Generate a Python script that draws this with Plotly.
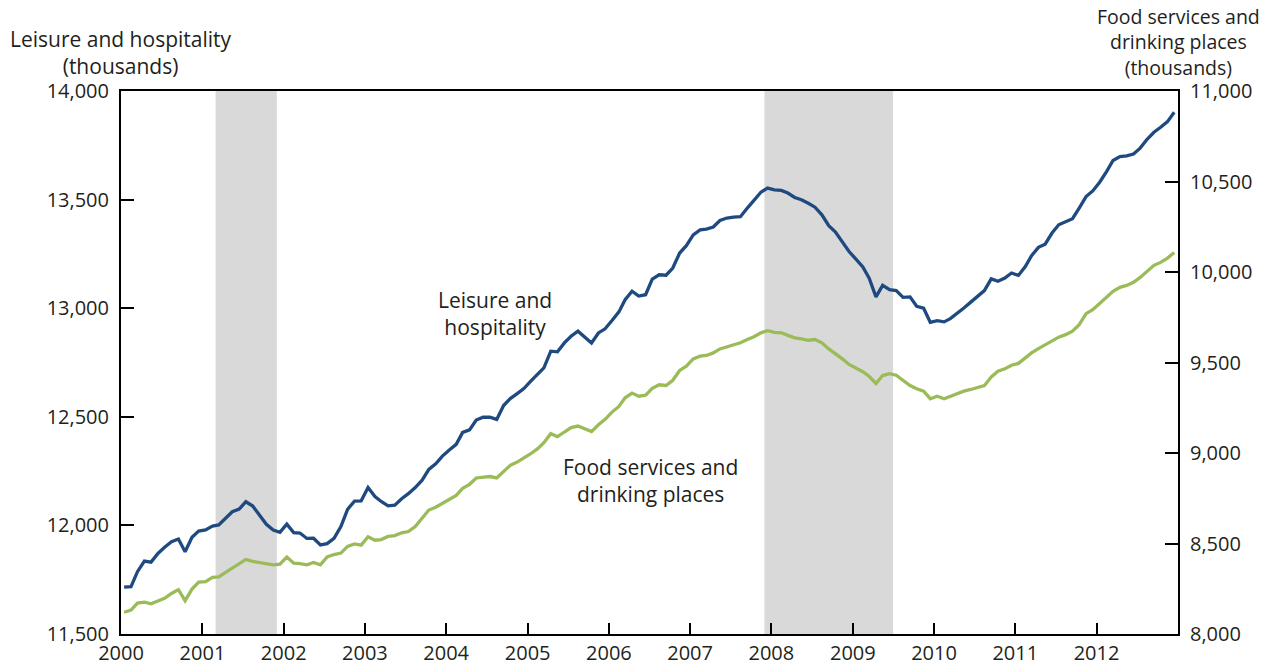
import pandas as pd
import plotly.graph_objects as go

# ---------------- data ----------------
start_month = "2000-01"
n_months = 156

leisure_hospitality = [
    11716, 11718, 11787, 11836, 11831, 11871, 11899, 11925, 11937, 11879, 11945, 11974,  # 2000
    11979, 11997, 12002, 12032, 12063, 12075, 12109, 12089, 12048, 12005, 11979, 11968,  # 2001
    12006, 11967, 11965, 11940, 11941, 11910, 11916, 11940, 11995, 12074, 12112, 12113,  # 2002
    12174, 12133, 12110, 12090, 12093, 12123, 12146, 12174, 12208, 12258, 12284, 12319,  # 2003
    12347, 12373, 12428, 12440, 12485, 12498, 12498, 12488, 12552, 12584, 12607, 12630,  # 2004
    12664, 12695, 12725, 12802, 12799, 12840, 12871, 12894, 12866, 12840, 12886, 12905,  # 2005
    12943, 12983, 13039, 13078, 13056, 13062, 13134, 13154, 13152, 13185, 13254, 13288,  # 2006
    13338, 13361, 13364, 13374, 13404, 13415, 13419, 13421, 13461, 13499, 13534, 13553,  # 2007
    13545, 13542, 13530, 13510, 13499, 13483, 13465, 13430, 13380, 13351, 13303, 13261,  # 2008
    13226, 13190, 13139, 13052, 13105, 13085, 13081, 13050, 13052, 13009, 13000, 12935,  # 2009
    12943, 12937, 12952, 12975, 13001, 13028, 13056, 13081, 13135, 13124, 13139, 13162,  # 2010
    13151, 13192, 13242, 13280, 13295, 13346, 13384, 13399, 13412, 13461, 13514, 13540,  # 2011
    13580, 13629, 13680, 13698, 13701, 13710, 13737, 13778, 13810, 13833, 13859, 13902,  # 2012
]

food_services = [
    8120, 8132, 8171, 8176, 8167, 8180, 8197, 8224, 8245, 8184, 8248, 8287,  # 2000
    8289, 8313, 8316, 8340, 8364, 8386, 8412, 8401, 8395, 8386, 8382, 8386,  # 2001
    8425, 8391, 8389, 8382, 8395, 8382, 8426, 8439, 8447, 8484, 8498, 8491,  # 2002
    8537, 8518, 8522, 8539, 8544, 8559, 8566, 8594, 8638, 8685, 8700, 8722,  # 2003
    8748, 8766, 8805, 8827, 8862, 8866, 8870, 8862, 8900, 8932, 8950, 8972,  # 2004
    8996, 9024, 9057, 9107, 9090, 9116, 9140, 9149, 9134, 9118, 9156, 9186,  # 2005
    9226, 9257, 9305, 9331, 9314, 9320, 9357, 9377, 9373, 9402, 9456, 9480,  # 2006
    9520, 9535, 9539, 9553, 9575, 9586, 9595, 9609, 9627, 9642, 9664, 9676,  # 2007
    9667, 9664, 9650, 9636, 9631, 9623, 9627, 9609, 9575, 9550, 9520, 9489,  # 2008
    9471, 9449, 9424, 9384, 9428, 9438, 9430, 9402, 9373, 9355, 9342, 9300,  # 2009
    9314, 9300, 9314, 9327, 9342, 9351, 9360, 9372, 9420, 9452, 9465, 9485,  # 2010
    9495, 9526, 9553, 9577, 9599, 9623, 9640, 9654, 9673, 9709, 9770, 9792,  # 2011
    9824, 9860, 9893, 9915, 9926, 9943, 9970, 10003, 10037, 10053, 10077, 10108,  # 2012
]

recessions = [("2001-03-01", "2001-12-01"), ("2007-12-01", "2009-07-01")]

year_ticks = [str(y) for y in range(2000, 2013)]
left_ticks = [11500, 12000, 12500, 13000, 13500, 14000]
right_ticks = [8000, 8500, 9000, 9500, 10000, 10500, 11000]

left_title = "Leisure and hospitality<br>(thousands)"
right_title = "Food services and<br>drinking places<br>(thousands)"
label_lh = "Leisure and<br>hospitality"
label_food = "Food services and<br>drinking places"

# ---------------- figure ----------------
months = pd.period_range(start_month, periods=n_months, freq="M")
x_dates = [p.to_timestamp() + pd.Timedelta(days=14) for p in months]

BLUE = "#1F4A80"
GREEN = "#9BBB59"
TXT = "#231F20"
FONT = "Open Sans"

fig = go.Figure()
fig.add_trace(go.Scatter(x=x_dates, y=leisure_hospitality, mode="lines",
                         line=dict(color=BLUE, width=3.3), name="Leisure and hospitality",
                         yaxis="y"))
fig.add_trace(go.Scatter(x=x_dates, y=food_services, mode="lines",
                         line=dict(color=GREEN, width=3.3), name="Food services and drinking places",
                         yaxis="y2"))

for x0, x1 in recessions:
    fig.add_shape(type="rect", xref="x", yref="paper", x0=x0, x1=x1, y0=0, y1=1,
                  fillcolor="#D9D9D9", line=dict(width=0), layer="below")

# plot area is 1057 x 543 px
fig.add_annotation(text=left_title, xref="paper", yref="paper", x=0.0, y=1.070,
                   xanchor="center", yanchor="middle", showarrow=False,
                   font=dict(family=FONT, size=21, color=TXT))
fig.add_annotation(text=right_title, xref="paper", yref="paper", x=1.0, y=1.0895,
                   xanchor="center", yanchor="middle", showarrow=False,
                   font=dict(family=FONT, size=19.5, color=TXT))
fig.add_annotation(text=label_lh, xref="paper", yref="paper", x=0.354, y=0.59,
                   xanchor="center", yanchor="middle", showarrow=False,
                   font=dict(family=FONT, size=21, color=TXT))
fig.add_annotation(text=label_food, xref="paper", yref="paper", x=0.501, y=0.2836,
                   xanchor="center", yanchor="middle", showarrow=False,
                   font=dict(family=FONT, size=21, color=TXT))

axis_common = dict(ticks="inside", tickwidth=2, tickcolor="black",
                   showline=True, linecolor="black", linewidth=2,
                   showgrid=False, zeroline=False, automargin=False,
                   tickfont=dict(family=FONT, size=20, color=TXT))

fig.update_layout(
    width=1278, height=666,
    margin=dict(l=121, r=100, t=91, b=32),
    paper_bgcolor="white", plot_bgcolor="white",
    showlegend=False,
    hovermode=False,
    font=dict(family=FONT, size=20, color=TXT),
    xaxis=dict(type="date", range=["2000-01-01", "2013-01-01"],
               tickvals=[f"{y}-01-01" for y in year_ticks], ticktext=year_ticks,
               ticklen=11, mirror=True, ticklabelstandoff=0, **axis_common),
    yaxis=dict(range=[11500, 14000], tickvals=left_ticks, tickformat=",d",
               ticklen=13, ticklabelstandoff=6, **axis_common),
    yaxis2=dict(range=[8000, 11000], tickvals=right_ticks, tickformat=",d",
                overlaying="y", side="right", ticklen=13, ticklabelstandoff=6,
                **axis_common),
)

# remove the default 8px page margin so the figure fills the window exactly
fig.write_html("out.html",
               config={"displayModeBar": False, "staticPlot": True},
               post_script="document.body.style.margin='0';document.body.style.overflow='hidden';")
